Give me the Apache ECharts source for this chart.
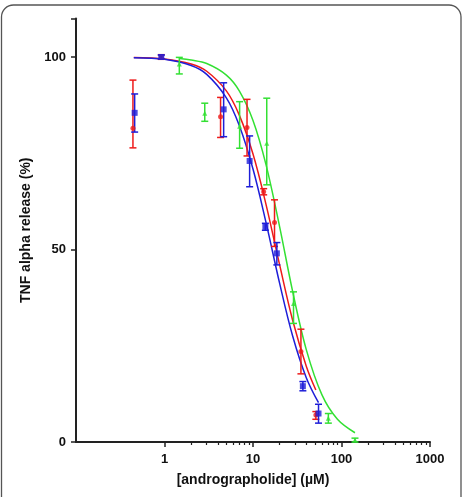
<!DOCTYPE html>
<html>
<head>
<meta charset="utf-8">
<script src="https://cdn.jsdelivr.net/npm/echarts@6/dist/echarts.min.js"></script>
<style>html,body{margin:0;padding:0;background:#fff}#c{width:463px;height:497px}</style>
</head>
<body>
<div id="c"></div>
<script>
// ---- data ----
const redX    = [0.44, 0.92, 4.3, 8.56, 13.2, 17.5, 34.8, 51.3];
const redY    = [81.5, 100, 84.5, 81.7, 65.0, 57.0, 23.5, 7.0];
const redLow  = [76.4, 99.4, 79.1, 74.3, 64.2, 50.8, 17.7, 5.9];
const redHigh = [94.0, 100.6, 89.5, 89.0, 65.8, 62.9, 29.3, 7.9];

const blueX    = [0.46, 0.92, 4.66, 9.16, 13.8, 18.6, 36.6, 55];
const blueY    = [85.5, 100, 86.4, 73.0, 55.9, 49.0, 14.5, 7.4];
const blueLow  = [80.5, 99.5, 79.3, 66.3, 55.0, 46.0, 13.3, 4.9];
const blueHigh = [90.4, 100.5, 93.3, 79.5, 56.8, 51.8, 15.7, 9.8];

const greenX    = [1.47, 2.85, 7.06, 14.3, 28.7, 71, 142];
const greenY    = [98.2, 85.4, 82.0, 77.6, 36.0, 6.2, 0.5];
const greenLow  = [95.6, 83.3, 76.3, 66.8, 30.8, 4.9, 0.0];
const greenHigh = [99.9, 88.0, 88.4, 89.3, 39.0, 7.4, 1.0];

// fitted curves
const blueCurveX  = [0.45, 1, 2, 3, 5, 7, 10, 14, 20, 28, 40, 55];
const blueCurveY  = [99.8, 99.4, 97.8, 95.5, 89.4, 82.2, 70.9, 57.1, 41.2, 27.6, 16.7, 10.2];
const redCurveX   = [0.45, 1, 2, 3, 5, 7, 10, 14, 20, 28, 40, 51.3];
const redCurveY   = [99.9, 99.5, 98.2, 96.3, 91.2, 84.9, 74.8, 61.8, 46.0, 31.7, 19.7, 13.5];
const greenCurveX = [1.47, 2, 3, 5, 7, 10, 14, 20, 28, 40, 60, 90, 142];
const greenCurveY = [99.6, 99.2, 98.3, 95.3, 91.2, 83.5, 72.1, 55.9, 39.2, 24.0, 12.3, 5.9, 2.4];

const xMajorTicks = [1, 10, 100, 1000];
const xMinorTicks = [2,3,4,5,6,7,8,9,20,30,40,50,60,70,80,90,200,300,400,500,600,700,800,900];
const yTicks = [0, 50, 100, 110];
const yLabels = [0, 50, 100];

const RED = '#ee1a1a', BLUE = '#1e1ed8', GREEN = '#33e033';
const FONT = '"Liberation Sans", Arial, sans-serif';

const zip2 = (a, b) => a.map((v, i) => [v, b[i]]);
const zip3 = (a, b, c) => a.map((v, i) => [v, b[i], c[i]]);

function errSeries(name, x, lo, hi, color) {
  return {
    name, type: 'custom', z: 3,
    data: zip3(x, lo, hi),
    encode: { x: 0, y: [1, 2] },
    renderItem: function (params, api) {
      const xv = api.value(0);
      const p1 = api.coord([xv, api.value(1)]);
      const p2 = api.coord([xv, api.value(2)]);
      const w = 3.5;
      const st = { stroke: color, lineWidth: 1.5 };
      return { type: 'group', children: [
        { type: 'line', shape: { x1: p1[0], y1: p1[1], x2: p2[0], y2: p2[1] }, style: st },
        { type: 'line', shape: { x1: p1[0]-w, y1: p1[1], x2: p1[0]+w, y2: p1[1] }, style: st },
        { type: 'line', shape: { x1: p2[0]-w, y1: p2[1], x2: p2[0]+w, y2: p2[1] }, style: st }
      ]};
    }
  };
}
function curve(name, x, y, color) {
  return { name, type: 'line', data: zip2(x, y), smooth: 0.35, showSymbol: false, z: 2,
    lineStyle: { color, width: 1.5 }, itemStyle: { color } };
}
function pts(name, x, y, color, symbol, size) {
  return { name, type: 'scatter', data: zip2(x, y), symbol, symbolSize: size, z: 4,
    itemStyle: { color } };
}

const chart = echarts.init(document.getElementById('c'), null, { renderer: 'canvas' });
chart.setOption({
  animation: false,
  backgroundColor: '#fff',
  graphic: [{
    type: 'rect', silent: true, z: -1,
    shape: { x: 1.5, y: 5, width: 459.5, height: 540, r: 12 },
    style: { fill: 'none', stroke: '#555', lineWidth: 1.3 }
  }],
  grid: { left: 76, right: 33, top: 18.5, bottom: 55, containLabel: false },
  xAxis: [{
    type: 'log', logBase: 10, min: 0.1, max: 1000, position: 'bottom',
    name: '[andrographolide] (\u00b5M)', nameLocation: 'middle', nameGap: 31,
    nameTextStyle: { fontFamily: FONT, fontWeight: 'bold', fontSize: 14, color: '#111' },
    axisLine: { show: true, lineStyle: { color: '#222', width: 2 } },
    axisTick: { show: true, length: 5, customValues: xMajorTicks, lineStyle: { color: '#222', width: 1.5 } },
    axisLabel: { customValues: xMajorTicks, margin: 11, fontFamily: FONT, fontWeight: 'bold', fontSize: 13, color: '#111',
      formatter: v => String(Math.round(v)) },
    splitLine: { show: false }, minorTick: { show: false }
  }, {
    type: 'log', logBase: 10, min: 0.1, max: 1000, position: 'bottom', offset: 0,
    axisLine: { show: false },
    axisTick: { show: true, length: 3, customValues: xMinorTicks, lineStyle: { color: '#222', width: 1.2 } },
    axisLabel: { show: false }, splitLine: { show: false }
  }],
  yAxis: {
    type: 'value', min: 0, max: 110, interval: 10,
    name: 'TNF alpha release (%)', nameLocation: 'middle', nameGap: 38,
    nameTextStyle: { fontFamily: FONT, fontWeight: 'bold', fontSize: 14, color: '#111' },
    axisLine: { show: true, lineStyle: { color: '#222', width: 2 } },
    axisTick: { show: true, length: 5, customValues: yTicks, lineStyle: { color: '#222', width: 1.5 } },
    axisLabel: { customValues: yLabels, margin: 10, fontFamily: FONT, fontWeight: 'bold', fontSize: 13, color: '#111' },
    splitLine: { show: false }
  },
  series: [
    curve('greenFit', greenCurveX, greenCurveY, GREEN),
    curve('redFit', redCurveX, redCurveY, RED),
    curve('blueFit', blueCurveX, blueCurveY, BLUE),
    errSeries('greenErr', greenX, greenLow, greenHigh, GREEN),
    errSeries('redErr', redX, redLow, redHigh, RED),
    errSeries('blueErr', blueX, blueLow, blueHigh, BLUE),
    pts('green', greenX, greenY, GREEN, 'triangle', 5),
    pts('red', redX, redY, RED, 'circle', 5),
    pts('blue', blueX, blueY, BLUE, 'rect', 6)
  ]
});
</script>
</body>
</html>
